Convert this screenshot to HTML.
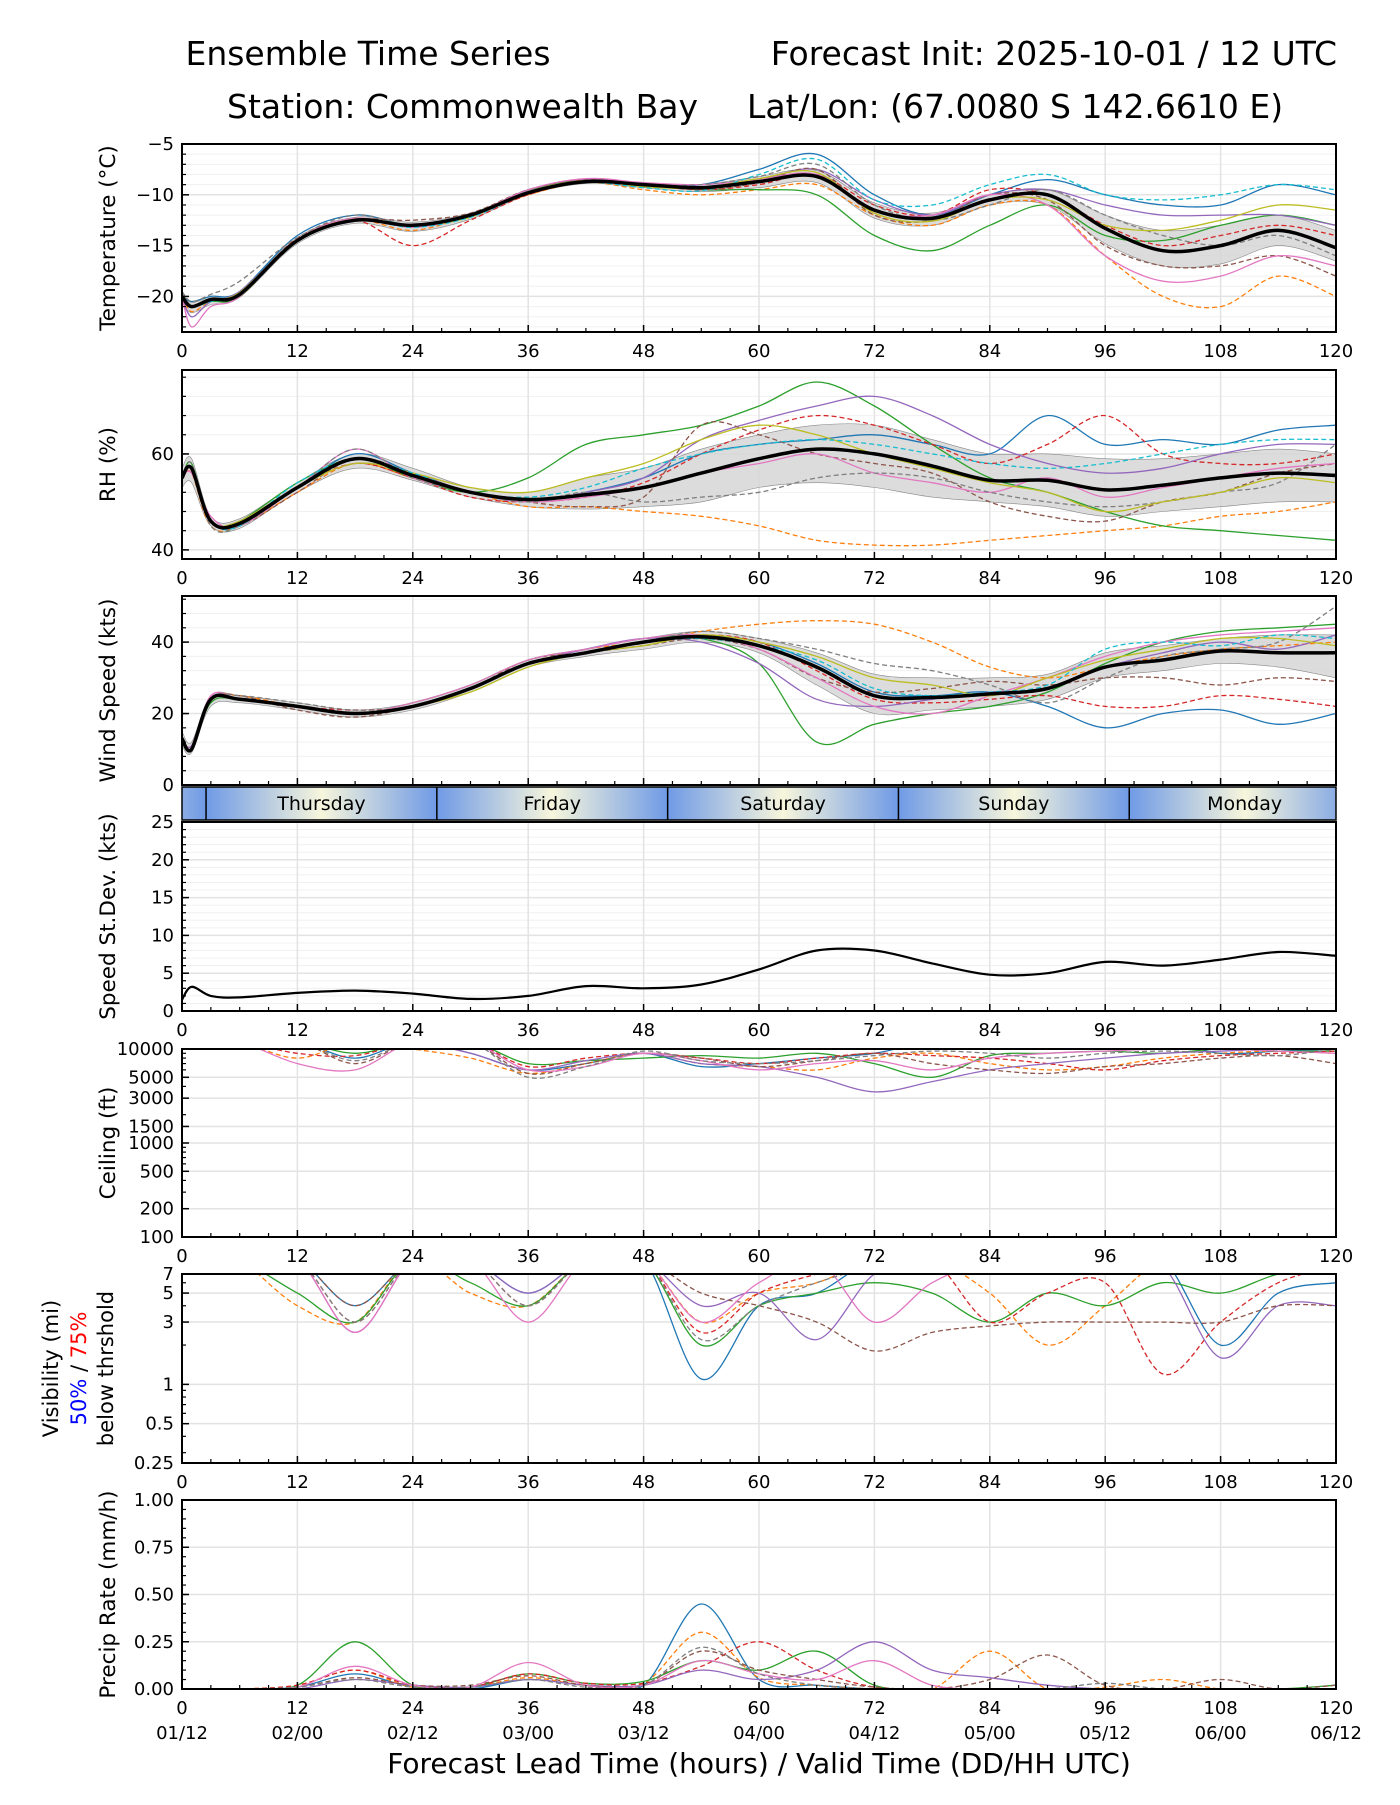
<!DOCTYPE html>
<html><head><meta charset="utf-8"><style>
html,body{margin:0;padding:0;background:#fff}
svg text{font-family:"DejaVu Sans","Liberation Sans",sans-serif;fill:#000}
</style></head><body>
<svg id="c" width="1400" height="1800" viewBox="0 0 1400 1800" xmlns="http://www.w3.org/2000/svg">
<defs>
<linearGradient id="dayg" x1="0" x2="1" y1="0" y2="0">
<stop offset="0" stop-color="#6f9ae6"/><stop offset="0.5" stop-color="#f7f6dc"/><stop offset="1" stop-color="#6f9ae6"/>
</linearGradient>
</defs>
<text x="368" y="65" font-size="33" text-anchor="middle">Ensemble Time Series</text>
<text x="1337" y="65" font-size="33" text-anchor="end">Forecast Init: 2025-10-01 / 12 UTC</text>
<text x="227" y="118" font-size="33">Station: Commonwealth Bay</text>
<text x="747" y="118" font-size="33">Lat/Lon: (67.0080 S 142.6610 E)</text>
<g id="root"></g>
</svg>
<script>
const hours=[0,1,3,6,12,18,24,30,36,42,48,54,60,66,72,78,84,90,96,102,108,114,120];
const xTicks=[0,12,24,36,48,60,72,84,96,108,120];
const dateLabels=["01/12","02/00","02/12","03/00","03/12","04/00","04/12","05/00","05/12","06/00","06/12"];
const dayNames=["Thursday","Friday","Saturday","Sunday","Monday"];
const dayBounds=[2.5,26.5,50.5,74.5,98.5];

const tMean=[-20,-21,-20.3,-19.8,-14.5,-12.5,-13,-12,-9.8,-8.7,-9,-9.3,-8.7,-8.2,-11.5,-12.3,-10.5,-10,-13.3,-15.5,-15,-13.5,-15.2];
const tLo=[-20.5,-21.6,-20.8,-20.1,-14.8,-12.8,-13.6,-12.4,-10,-8.9,-9.3,-9.7,-9.3,-8.8,-12.3,-13,-11,-11,-14.8,-17,-16.8,-15,-16.5];
const tHi=[-19.6,-20.6,-20,-19.5,-14.2,-12.2,-12.7,-11.8,-9.6,-8.5,-8.8,-9,-8.2,-7.6,-10.8,-11.8,-10,-9.5,-12,-13.5,-13,-12,-13.5];
const tMembers=[
[-20,-20.5,-20,-19.5,-14,-12,-13,-12,-9.5,-8.5,-9,-9,-7.5,-6,-10,-12,-10,-8.5,-10,-11,-11,-9,-10],
[-20,-21.5,-20.5,-20,-14.5,-12.5,-13.5,-12,-10,-8.8,-9.5,-10,-9.5,-9,-12,-13,-11,-11,-16,-20,-21,-18,-20],
[-20,-21,-20.5,-20,-14.5,-12.5,-13,-12,-9.5,-8.5,-9,-9.5,-9.5,-10,-14,-15.5,-13,-11,-14,-14.5,-13,-12,-13],
[-20,-21,-20.3,-19.8,-14.3,-12.5,-15,-12.5,-10,-8.7,-9,-9.5,-9,-8,-11,-12,-9.5,-10,-13,-15,-14,-13,-14],
[-20,-22,-20.5,-19.5,-14.5,-12.6,-13,-12,-9.8,-8.5,-9,-9,-8.5,-7.5,-10.5,-12,-10,-9.5,-11,-12,-12,-12,-13],
[-20,-21,-20.3,-19.8,-14.5,-12.5,-12.5,-11.8,-9.5,-8.5,-9,-9.5,-8.8,-7.5,-12,-12.5,-10,-10.5,-15,-17,-17,-16,-18],
[-20,-23,-21,-20,-14.4,-12.3,-13.2,-12,-9.5,-8.4,-8.8,-9,-8.5,-8,-11.5,-12,-10,-11,-16,-18.5,-18,-16,-17],
[-19.5,-20.5,-19.8,-18.5,-14.2,-12,-13,-12,-9.8,-8.7,-9,-9,-8.2,-7,-11,-12.5,-11,-9.5,-12,-14,-15,-14,-16],
[-20,-21,-20.3,-19.6,-14.4,-12.4,-13,-12.2,-9.7,-8.6,-9.2,-9.3,-8.4,-7.8,-11.8,-12.6,-10.5,-10.5,-13,-13.5,-12.5,-11,-11.5],
[-20,-21,-20.5,-19.7,-14.6,-12.5,-13.2,-12.2,-9.9,-8.8,-9.3,-9.6,-8,-6.5,-10.5,-11,-9,-8,-10,-10.5,-10,-9,-9.5]];

const rhMean=[55,57,46,45.5,53,59,55.5,52,50.5,51.5,53,56,59,61,60,57.5,54.5,54.5,52.5,53.5,55,56,55.5];
const rhLo=[53,54,45,44.5,52,57,54.5,51,49,48.5,49,50,53,54,53,51,50,49,47,48,49,50,50];
const rhHi=[57,59,47,46.5,54,60,57,53,52,55,57,61,64,66,66,63,60,60,59,59,60,61,60];
const rhMembers=[
[55,57,46,45,53,60,56,52,50,52,55,60,62,63,64,62,60,68,62,63,62,65,66],
[55,56,45,45,52,58,55,52,49,49,48,47,45,42,41,41,42,43,44,45,47,48,50],
[55,58,46,46,54,59,55,52,55,62,64,66,70,75,70,62,55,52,48,45,44,43,42],
[55,57,46,45,53,58,55,51,50,51,54,60,65,68,66,62,58,62,68,60,58,58,60],
[55,57,46,46,53,58,56,52,50,52,55,63,67,70,72,68,62,58,56,57,60,62,62],
[55,57,46,45,52,59,56,52,50,49,51,66,64,60,58,56,50,47,46,50,52,56,58],
[55,56,47,45,53,61,55,52,50,51,53,56,58,60,56,54,52,55,51,53,55,57,58],
[55,58,45,45,53,61,55,52,50,52,50,51,52,55,56,55,52,50,49,50,52,54,62],
[55,57,46,46,53,58,56,53,52,55,58,63,66,64,60,57,54,52,48,50,52,55,54],
[55,57,46,45,54,59,56,52,51,53,57,60,62,63,62,60,58,57,58,60,62,63,63]];

const wMean=[13,10,24,24,22,20,22,27,34,37,40,41.5,39,33,25,24.5,25.5,27,33,35,37.5,37,37];
const wLo=[11,9,22,23,21,19,21,26,33,36,38,40,37,28,20,21,22,24,30,32,34,33,30];
const wHi=[15,12,25,25,23,21,23,28,35,38,41,43,41,37,31,30,30,31,37,39,41,42,42];
const wMembers=[
[13,10,24,24,22,20,22,27,34,38,41,42,40,34,26,25,26,22,16,20,21,17,20],
[13,11,24,25,22,20,22,27,34,38,40,43,45,46,45,40,33,30,33,36,38,39,40],
[13,10,23,24,22,20,23,28,35,38,41,41,34,12,17,20,22,26,34,40,43,44,45],
[13,10,24,24,22,21,22,27,34,37,40,42,40,32,24,23,24,25,22,22,25,24,22],
[13,11,24,24,22,20,22,27,34,38,41,40,34,24,22,24,26,27,33,37,40,38,42],
[12,10,24,25,21,19,22,27,35,37,39,41,38,30,26,27,29,28,30,30,28,30,29],
[13,10,25,24,22,20,23,28,35,38,41,42,38,30,22,20,25,30,36,40,42,43,44],
[13,10,24,25,23,21,22,27,34,37,40,43,41,38,34,32,28,23,30,36,38,40,50],
[13,10,24,24,22,20,22,26,33,37,39,42,40,36,30,28,25,30,35,38,41,41,39],
[13,10,24,24,22,20,22,27,34,37,40,41,39,35,27,25,26,28,38,40,39,42,41]];

const sdValues=[1.5,3.2,2.0,1.8,2.4,2.7,2.3,1.6,2.0,3.3,3.0,3.5,5.5,8,8,6.3,4.8,5,6.5,6,6.8,7.8,7.3];

const ceilMembers=[
[12000,12000,12000,12000,12000,8000,12000,9000,6000,7000,9000,6500,7000,8000,9000,12000,12000,12000,12000,12000,9000,9500,10000],
[12000,12000,12000,12000,8000,12000,10000,8000,5500,7000,9000,7000,6500,6000,8000,9000,7000,6000,6500,8000,9000,9500,9000],
[12000,12000,12000,12000,12000,9000,12000,12000,7000,7500,8000,8500,8000,9000,7000,5000,8500,9000,9500,9000,10000,9500,9500],
[12000,12000,12000,12000,9000,8500,12000,12000,6500,8000,9000,8000,7000,8000,9000,8500,8000,7000,6000,7500,8500,9000,9500],
[12000,12000,12000,12000,12000,12000,12000,9000,6000,7500,9000,7000,6500,5000,3500,4500,6000,7000,8000,9000,9500,10000,10000],
[12000,12000,12000,12000,12000,7000,12000,12000,5500,7000,9000,8000,6500,7500,9000,7000,6000,5500,6500,7000,8000,8500,7000],
[12000,12000,12000,12000,7000,6000,12000,12000,6000,6500,9000,7500,6000,7000,7500,6000,8000,9000,9500,10000,10000,9500,9000],
[12000,12000,12000,12000,12000,7500,12000,12000,5000,6500,9500,7500,7000,7500,8500,9500,9000,8000,9000,9500,9000,8500,10000]];

const visMembers=[
[9,9,9,9,9,4,9,9,5,9,9,1.1,4,5,9,9,9,9,9,9,2,5,6],
[9,9,9,9,4,3,9,5,4,9,9,3,5,6,9,9,5,2,4,9,9,9,9],
[9,9,9,9,5,3,9,6,4,9,9,2,4,5,6,5,3,5,4,6,5,7,8],
[9,9,9,9,9,3,9,9,4,9,9,2.5,5,7,9,9,3,5,6,1.2,3,6,8],
[9,9,9,9,9,2.5,9,9,5,9,9,4,5,2.2,7,9,8,9,9,8,1.6,4,4],
[9,9,9,9,9,4,9,9,9,9,9,5,4,3,1.8,2.5,2.8,3,3,3,3,4,4],
[9,9,9,9,9,2.5,9,9,3,9,9,3,6,9,3,6,9,9,9,9,9,9,9],
[9,9,9,9,9,3,9,9,4,9,9,2.2,4,6,8,9,9,9,9,9,9,9,9]];

const precipMembers=[
[0,0,0,0,0.01,0.08,0.01,0,0.05,0.02,0.02,0.45,0.05,0.02,0,0,0,0,0,0,0,0,0],
[0,0,0,0,0.02,0.1,0.01,0.01,0.06,0.02,0.03,0.3,0.06,0.02,0,0,0.2,0,0.01,0.05,0,0,0],
[0,0,0,0,0.02,0.25,0.02,0.01,0.08,0.03,0.04,0.15,0.1,0.2,0.02,0,0,0,0,0,0,0,0.02],
[0,0,0,0,0.02,0.1,0.02,0.01,0.08,0.03,0.03,0.12,0.25,0.1,0.01,0,0,0,0,0,0,0,0],
[0,0,0,0,0,0.05,0.02,0.01,0.05,0.02,0.02,0.1,0.05,0.1,0.25,0.1,0.06,0.02,0,0,0,0,0],
[0,0,0,0,0.01,0.06,0.02,0.02,0.07,0.02,0.02,0.2,0.1,0.05,0.01,0,0.05,0.18,0.02,0,0.05,0,0.02],
[0,0,0,0,0.01,0.12,0.02,0.01,0.14,0.02,0.02,0.15,0.08,0.05,0.15,0.02,0,0,0,0,0,0,0],
[0,0,0,0,0.01,0.05,0.01,0.01,0.05,0.01,0.02,0.22,0.08,0.02,0,0,0,0,0.03,0,0,0,0]];

const COLORS=["#1f77b4","#ff7f0e","#2ca02c","#d62728","#9467bd","#8c564b","#e377c2","#7f7f7f","#bcbd22","#17becf"];
const NS="http://www.w3.org/2000/svg";
const root=document.getElementById('root');
const X0=182,X1=1336;
function xs(h){return X0+(h/120)*(X1-X0);}
function mk(tag,attrs,parent){const e=document.createElementNS(NS,tag);for(const k in attrs)e.setAttribute(k,attrs[k]);(parent||root).appendChild(e);return e;}
function smooth(pts){
  let d="M"+pts[0][0].toFixed(1)+","+pts[0][1].toFixed(1);
  for(let i=0;i<pts.length-1;i++){
    const p0=pts[i-1]||pts[i],p1=pts[i],p2=pts[i+1],p3=pts[i+2]||p2;
    const c1=[p1[0]+(p2[0]-p0[0])/6,p1[1]+(p2[1]-p0[1])/6];
    const c2=[p2[0]-(p3[0]-p1[0])/6,p2[1]-(p3[1]-p1[1])/6];
    d+="C"+c1[0].toFixed(1)+","+c1[1].toFixed(1)+" "+c2[0].toFixed(1)+","+c2[1].toFixed(1)+" "+p2[0].toFixed(1)+","+p2[1].toFixed(1);
  }
  return d;
}
let clipN=0;
function panel(o){
  const g=mk('g',{});
  
  
  const ys=o.log?(v)=>o.y1-(Math.log(v)-Math.log(o.min))/(Math.log(o.max)-Math.log(o.min))*(o.y1-o.y0)
                 :(v)=>o.y1-(v-o.min)/(o.max-o.min)*(o.y1-o.y0);
  (o.minorGrid||[]).forEach(v=>{const y=ys(v);mk('line',{x1:X0,x2:X1,y1:y,y2:y,stroke:'#f0f0f0','stroke-width':1},g);});
  xTicks.forEach(h=>{mk('line',{x1:xs(h),x2:xs(h),y1:o.y0,y2:o.y1,stroke:'#e3e3e3','stroke-width':1.5},g);});
  o.yTicks.forEach(v=>{const y=ys(v);mk('line',{x1:X0,x2:X1,y1:y,y2:y,stroke:'#e3e3e3','stroke-width':1.5},g);});
  const cid='clip'+(clipN++);
  const cp=mk('clipPath',{id:cid},g);mk('rect',{x:X0,y:o.y0,width:X1-X0,height:o.y1-o.y0},cp);
  const data=mk('g',{'clip-path':'url(#'+cid+')'},g);
  
  
  if(o.lo){
    const up=hours.map((h,i)=>[xs(h),ys(o.hi[i])]);
    const dn=hours.map((h,i)=>[xs(h),ys(o.lo[i])]).reverse();
    const d=smooth(up)+smooth(dn).replace('M','L')+'Z';
    const band=mk('path',{d:d,fill:'#d6d6d6','fill-opacity':0.85,stroke:'#888','stroke-width':0.6},data);
    
    
  }
  (o.members||[]).forEach((m,k)=>{
    const pts=hours.map((h,i)=>[xs(h),ys(o.log?Math.max(m[i],o.min*0.5):m[i])]);
    const p=mk('path',{d:smooth(pts),fill:'none',stroke:COLORS[k%10],'stroke-width':1.3},data);
    if(k%2===1)p.setAttribute('stroke-dasharray','5,3');
    
    
  });
  if(o.mean){
    const pts=hours.map((h,i)=>[xs(h),ys(o.mean[i])]);
    const p=mk('path',{d:smooth(pts),fill:'none',stroke:'#000','stroke-width':o.meanW||3.5},data);
    
    
  }
  mk('rect',{x:X0,y:o.y0,width:X1-X0,height:o.y1-o.y0,fill:'none',stroke:'#000','stroke-width':2},g);
  for(let h=0;h<=120;h+=3){const maj=h%12===0;mk('line',{x1:xs(h),x2:xs(h),y1:o.y1,y2:o.y1-(maj?7:4),stroke:'#000','stroke-width':maj?1.5:1.2},g);}
  if(o.xlabels!==false){
    xTicks.forEach(h=>{const t=mk('text',{x:xs(h),y:o.y1+25,'font-size':18,'text-anchor':'middle'},g);t.textContent=h;
      });
  }
  (o.minorY||[]).forEach(v=>{const y=ys(v);mk('line',{x1:X0,x2:X0+4,y1:y,y2:y,stroke:'#000','stroke-width':1.2},g);});
  o.yTicks.forEach((v,i)=>{const y=ys(v);mk('line',{x1:X0,x2:X0+7,y1:y,y2:y,stroke:'#000','stroke-width':1.5},g);
    const t=mk('text',{x:X0-8,y:y+6,'font-size':18,'text-anchor':'end'},g);t.textContent=o.yLabels[i];
    });
  if(o.ylabel){const cy=(o.y0+o.y1)/2;const t=mk('text',{x:0,y:0,'font-size':21.5,'text-anchor':'middle',transform:'translate('+(o.ylx||115)+','+cy+') rotate(-90)'},g);t.textContent=o.ylabel;
    }
  return {g,ys};
}
function range(a,b,s){const r=[];for(let v=a;v<=b+1e-9;v+=s)r.push(+v.toFixed(4));return r;}

panel({name:'temperature',y0:144,y1:332,min:-23.5,max:-5,yTicks:[-20,-15,-10,-5],yLabels:['\u221220','\u221215','\u221210','\u22125'],minorY:range(-23,-5,1),minorGrid:range(-23,-5,1),
  ylabel:'Temperature (\u00B0C)',members:tMembers,mean:tMean,lo:tLo,hi:tHi});
panel({name:'relative-humidity',y0:370,y1:559,min:38.1,max:77.5,yTicks:[40,60],yLabels:['40','60'],minorY:range(40,76,4),minorGrid:range(40,76,4),
  ylabel:'RH (%)',members:rhMembers,mean:rhMean,lo:rhLo,hi:rhHi});
panel({name:'wind-speed',y0:596,y1:785,min:0,max:52.9,yTicks:[0,20,40],yLabels:['0','20','40'],minorY:range(0,52,4),minorGrid:range(0,52,4),
  ylabel:'Wind Speed (kts)',members:wMembers,mean:wMean,lo:wLo,hi:wHi,xlabels:false});
(function(){
  const y0=787,y1=820;const g=mk('g',{});
  
  const edges=[-21.5].concat(dayBounds).concat([122.5]);
  const cp=mk('clipPath',{id:'dayclip'},g);mk('rect',{x:X0,y:y0,width:X1-X0,height:y1-y0},cp);
  const inner=mk('g',{'clip-path':'url(#dayclip)'},g);
  for(let i=0;i<edges.length-1;i++){mk('rect',{x:xs(edges[i]),y:y0,width:xs(edges[i+1])-xs(edges[i]),height:y1-y0,fill:'url(#dayg)'},inner);}
  dayBounds.forEach(h=>mk('line',{x1:xs(h),x2:xs(h),y1:y0,y2:y1,stroke:'#000','stroke-width':1.5},g));
  dayNames.forEach((n,i)=>{const t=mk('text',{x:xs(dayBounds[i]+12),y:y0+23,'font-size':19,'text-anchor':'middle'},g);t.textContent=n;
    });
  mk('rect',{x:X0,y:y0,width:X1-X0,height:y1-y0,fill:'none',stroke:'#000','stroke-width':1.5},g);
})();
panel({name:'speed-stdev',y0:822,y1:1011,min:0,max:25,yTicks:[0,5,10,15,20,25],yLabels:['0','5','10','15','20','25'],minorY:range(0,25,1),minorGrid:range(0,25,1),
  ylabel:'Speed St.Dev. (kts)',mean:sdValues,meanW:2.2});
panel({name:'ceiling',y0:1049,y1:1237,min:100,max:10000,log:true,yTicks:[100,200,500,1000,1500,3000,5000,10000],yLabels:['100','200','500','1000','1500','3000','5000','10000'],
  minorY:[300,400,600,700,800,900,2000,4000,6000,7000,8000,9000],ylabel:'Ceiling (ft)',members:ceilMembers});
panel({name:'visibility',y0:1274,y1:1463,min:0.25,max:7,log:true,yTicks:[0.25,0.5,1,3,5,7],yLabels:['0.25','0.5','1','3','5','7'],
  minorY:[0.3,0.4,0.6,0.7,0.8,0.9,2,4,6],members:visMembers});
(function(){
  const cy=(1274+1463)/2;
  const t1=mk('text',{'font-size':21,'text-anchor':'middle',transform:'translate(58,'+cy+') rotate(-90)'});t1.textContent='Visibility (mi)';
  
  const t2=mk('text',{'font-size':21,'text-anchor':'middle',transform:'translate(86,'+cy+') rotate(-90)'});
  
  const a=mk('tspan',{fill:'#0000ff',style:'fill:#0000ff'},t2);a.textContent='50%';
  const b=mk('tspan',{},t2);b.textContent=' / ';
  const c=mk('tspan',{fill:'#ff0000',style:'fill:#ff0000'},t2);c.textContent='75%';
  const t3=mk('text',{'font-size':21,'text-anchor':'middle',transform:'translate(113,'+cy+') rotate(-90)'});t3.textContent='below thrshold';
  
})();
panel({name:'precip-rate',y0:1500,y1:1689,min:0,max:1,yTicks:[0,0.25,0.5,0.75,1],yLabels:['0.00','0.25','0.50','0.75','1.00'],minorY:range(0,1,0.05),
  ylabel:'Precip Rate (mm/h)',members:precipMembers});
xTicks.forEach((h,i)=>{const t=mk('text',{x:xs(h),y:1739,'font-size':18,'text-anchor':'middle'});t.textContent=dateLabels[i];
  });
const xl=mk('text',{x:(X0+X1)/2,y:1773,'font-size':28,'text-anchor':'middle'});
xl.textContent='Forecast Lead Time (hours) / Valid Time (DD/HH UTC)';


</script>
</body></html>
